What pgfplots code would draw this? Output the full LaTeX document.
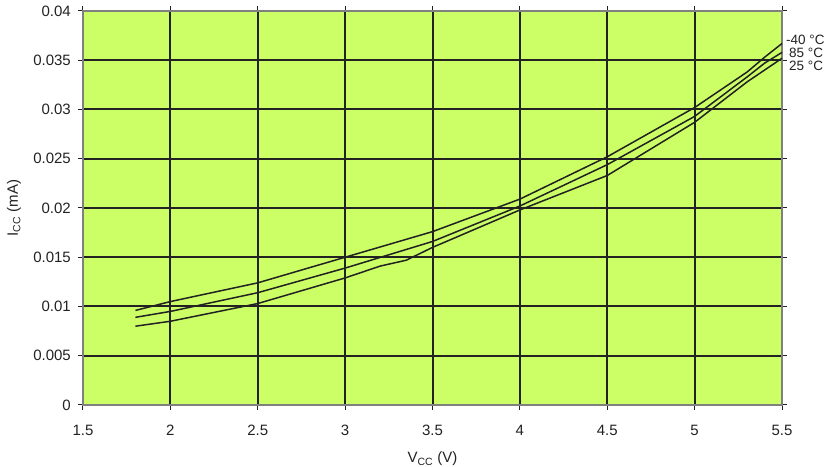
\documentclass[border=0pt]{standalone}
\usepackage{pgfplots}
\pgfplotsset{compat=1.18}
\usepackage{fontspec}
\setmainfont{Liberation Sans}
\definecolor{plotbg}{HTML}{CCFF66}
\definecolor{gridcol}{HTML}{222222}

\begin{document}
\fontsize{15}{17}\selectfont
\begin{tikzpicture}
\begin{axis}[
  name=main,
  scale only axis,
  width=699pt, height=394pt,
  xmin=1.5, xmax=5.5, ymin=0, ymax=0.04,
  xtick={1.5,2,...,5.5},
  ytick={0,0.005,...,0.04},
  scaled y ticks=false,
  yticklabel style={/pgf/number format/fixed, /pgf/number format/precision=3, xshift=-2pt},
  xticklabel style={yshift=-10pt},
  /pgf/number format/assume math mode=true,
  ticklabel style={text=gridcol},
  axis background/.style={fill=plotbg},
  axis line style={gray, line width=1.2pt},
  grid=major,
  grid style={gridcol, line width=2pt},
  tick align=outside,
  major tick length=5pt,
  tick style={gridcol, line width=1pt},
  xlabel={V\textsubscript{CC} (V)},
  ylabel={I\textsubscript{CC} (mA)},
  label style={text=gridcol},
  xlabel style={yshift=-6pt},
  ylabel style={yshift=2pt},
  clip=false,
]
% -40 C
\addplot[gridcol, line width=1.5pt] coordinates {
  (1.8,0.0096) (2.0,0.0105) (2.5,0.0124) (3.0,0.0150) (3.5,0.0176)
  (4.0,0.0209) (4.5,0.0252) (5.0,0.0302) (5.3,0.0338) (5.4,0.0353) (5.5,0.0367)
};
% 85 C
\addplot[gridcol, line width=1.5pt] coordinates {
  (1.8,0.0089) (2.0,0.0095) (2.5,0.0114) (3.0,0.0139) (3.5,0.0166)
  (4.0,0.0202) (4.5,0.0244) (5.0,0.0293) (5.3,0.0333) (5.4,0.0347) (5.5,0.0358)
};
% 25 C
\addplot[gridcol, line width=1.5pt] coordinates {
  (1.8,0.0080) (2.0,0.0085) (2.5,0.0103) (3.0,0.0129) (3.2,0.0141) (3.35,0.0147) (3.5,0.0160)
  (4.0,0.0198) (4.5,0.0233) (5.0,0.0287) (5.3,0.0328) (5.4,0.0340) (5.5,0.0352)
};
\node[anchor=west, font=\fontsize{13.5}{14}\selectfont, text=gridcol, inner sep=0pt] at (axis cs:5.5,0.0371) {\hspace{4pt}-40 °C};
\node[anchor=west, font=\fontsize{13.5}{14}\selectfont, text=gridcol, inner sep=0pt] at (axis cs:5.5,0.0357) {\hspace{7pt}85 °C};
\node[anchor=west, font=\fontsize{13.5}{14}\selectfont, text=gridcol, inner sep=0pt] at (axis cs:5.5,0.0344) {\hspace{7pt}25 °C};
\end{axis}
\pgfresetboundingbox
\path ([shift={(-83pt,-62pt)}]main.south west) rectangle ([shift={(51pt,11pt)}]main.north east);
\end{tikzpicture}
\end{document}
